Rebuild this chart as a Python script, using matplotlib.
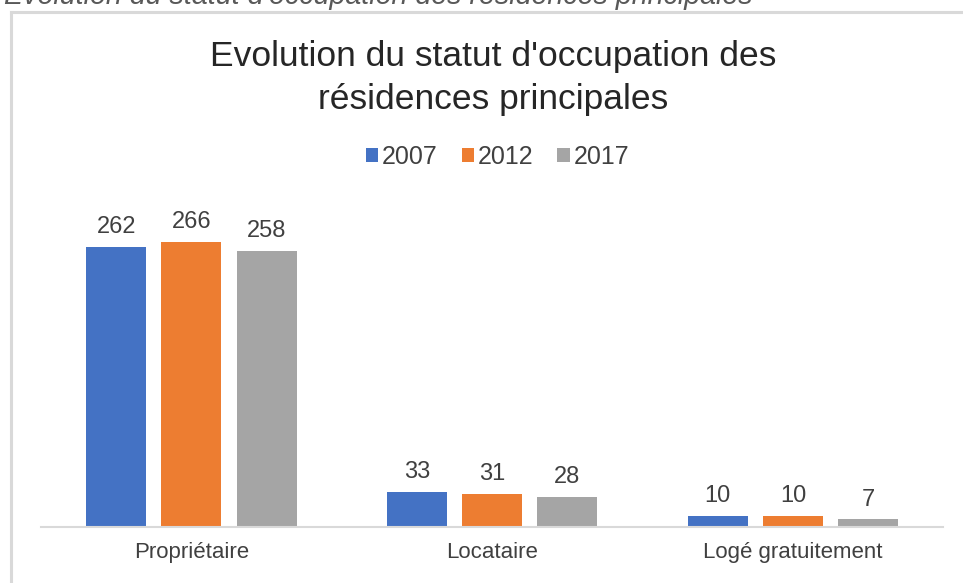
import numpy as np
import matplotlib
matplotlib.use("Agg")
import matplotlib.pyplot as plt

categories = ["Propriétaire", "Locataire", "Logé gratuitement"]
years = ["2007", "2012", "2017"]
v2007 = [262, 33, 10]
v2012 = [266, 31, 10]
v2017 = [258, 28, 7]
colors = ["#4472c4", "#ed7d31", "#a5a5a5"]

plt.rcParams['font.family'] = ['Liberation Sans', 'DejaVu Sans']

fig = plt.figure(figsize=(9.63, 5.83), dpi=100)
ax = fig.add_axes([0.0426, 0.0961, 0.937, 0.5506])

x = np.arange(len(categories))
w = 0.2
for i, (vals, yr) in enumerate(zip([v2007, v2012, v2017], years)):
    bars = ax.bar(x + (i - 1) * 0.25, vals, w, color=colors[i], label=yr)
    for b, v in zip(bars, vals):
        ax.text(b.get_x() + b.get_width() / 2, v + 13, str(v),
                ha="center", va="baseline", fontsize=17, color="#404040")

ax.set_xlim(-0.5, 2.5)
ax.set_ylim(0, 300)
ax.set_yticks([])
ax.set_xticks(x)
ax.set_xticklabels(categories, fontsize=16, color="#404040")
ax.tick_params(axis="x", length=0, pad=11)
for s in ["top", "right", "left"]:
    ax.spines[s].set_visible(False)
ax.spines["bottom"].set_color("#d9d9d9")
ax.spines["bottom"].set_linewidth(1.5)

# chart title, two lines
fig.text(0.512, 0.8868, "Evolution du statut d'occupation des",
         ha="center", va="baseline", fontsize=25.5, color="#262626")
fig.text(0.512, 0.813, "résidences principales",
         ha="center", va="baseline", fontsize=25.5, color="#262626")

leg = fig.legend(loc="center", bbox_to_anchor=(0.5166, 0.7307), ncol=3, frameon=False,
                 fontsize=18, handlelength=0.5, handleheight=0.5, handletextpad=0.15,
                 columnspacing=0.95, labelcolor="#404040")

# caption partly cut off at the top
fig.text(0.004, 1 - 4 / 583, "Evolution du statut d'occupation des résidences principales",
         ha="left", va="baseline", fontsize=20.6, style="italic", color="#595959")

# outer frame of the chart
fig.add_artist(plt.Line2D([0.0114, 0.0114], [0.0, 0.9794], color="#d9d9d9", lw=2.2,
                          transform=fig.transFigure))
fig.add_artist(plt.Line2D([0.0114, 1.0], [0.9794, 0.9794], color="#d9d9d9", lw=2.2,
                          transform=fig.transFigure))

fig.savefig("out.png", dpi=100)
